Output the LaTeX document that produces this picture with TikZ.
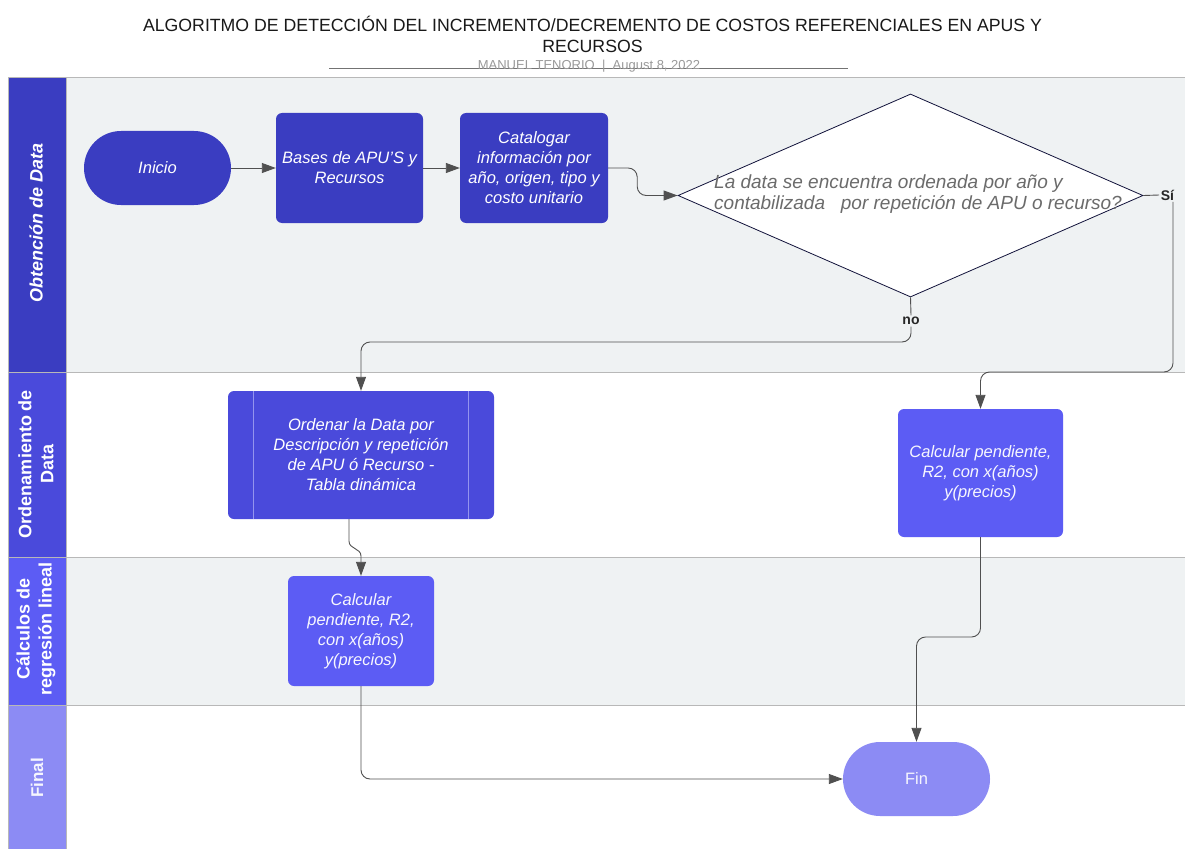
\documentclass[tikz,border=0pt]{standalone}
\usepackage{fontspec}
\setmainfont{Liberation Sans}
\usetikzlibrary{shapes.geometric,arrows.meta}
\definecolor{cA}{HTML}{3A3DC1}
\definecolor{cB}{HTML}{4A4ADB}
\definecolor{cC}{HTML}{5C5CF4}
\definecolor{cD}{HTML}{8C8BF4}
\definecolor{lanebg}{HTML}{EFF2F3}
\definecolor{laneline}{HTML}{B8B8B8}
\definecolor{wirecol}{HTML}{505050}
\definecolor{sepline}{HTML}{9494EE}
\begin{document}
\begin{tikzpicture}[x=1pt,y=-1pt,
  procbox/.style={rectangle, rounded corners=6pt, text=white, align=center, inner sep=0pt,
    font=\fontsize{16.5}{20}\selectfont\itshape},
  termbox/.style={rectangle, rounded corners=37pt, minimum width=147pt, minimum height=74pt,
    text=white, inner sep=0pt, font=\fontsize{16.5}{20}\selectfont\itshape},
  wire/.style={draw=wirecol, line width=0.9pt, rounded corners=9pt,
    -{Triangle[length=14pt,width=10pt]}},
  plainwire/.style={draw=wirecol, line width=0.9pt},
  lanehead/.style={text=white, align=center, rotate=90,
    font=\fontsize{18}{22}\selectfont\bfseries},
  lab/.style={font=\fontsize{14}{16}\selectfont\bfseries, text=black!85, inner sep=1.5pt}]
\useasboundingbox (0,0) rectangle (1185,848);
\clip (0,0) rectangle (1185,848);
\fill[white] (0,0) rectangle (1185,848);

% title
\node[align=center, text=black!90, font=\fontsize{17.7}{21}\selectfont] (title) at (592.5,34)
  {ALGORITMO DE DETECCIÓN DEL INCREMENTO/DECREMENTO DE COSTOS REFERENCIALES EN APUS Y\\RECURSOS};
\draw[black!55, line width=0.8pt] (329,68) -- (848,68);
\node[text=black!40, font=\fontsize{13}{15}\selectfont] (author) at (589,66)
  {MANUEL TENORIO \ | \ August 8, 2022};

% lanes
\fill[lanebg] (66,78) rectangle (1190,372);
\fill[white] (66,372) rectangle (1190,557);
\fill[lanebg] (66,557) rectangle (1190,705);
\fill[white] (66,705) rectangle (1190,860);
\fill[cA] (8,78) rectangle (66,372);
\fill[cB] (8,372) rectangle (66,557);
\fill[cC] (8,557) rectangle (66,705);
\fill[cD] (8,705) rectangle (66,860);
\draw[laneline, line width=1pt] (8,78) -- (1190,78)
  (8,372) -- (1190,372) (8,557) -- (1190,557) (8,705) -- (1190,705)
  (8,78) -- (8,860) (66,78) -- (66,860);

\node[lanehead, font=\fontsize{18}{22}\selectfont\bfseries\itshape] (h1) at (36,223) {Obtención de Data};
\node[lanehead] (h2) at (36,464) {Ordenamiento de\\Data};
\node[lanehead] (h3) at (36,629) {Cálculos de\\regresión lineal};
\node[lanehead, text=white!92!cD, font=\fontsize{17}{21}\selectfont\bfseries] (h4) at (37,778) {Final};

% nodes
\node[termbox, fill=cA] (ini) at (157.5,168) {Inicio};
\node[procbox, fill=cA, minimum width=147pt, minimum height=110pt] (bas) at (349.5,168)
  {Bases de APU'S y\\Recursos};
\node[procbox, fill=cA, minimum width=148pt, minimum height=110pt] (cat) at (534,168)
  {Catalogar\\información por\\año, origen, tipo y\\costo unitario};
\node[diamond, draw=black!70!cA, line width=0.8pt, fill=white, inner sep=0pt,
  minimum width=465pt, minimum height=203pt] (dia) at (910.5,195.5) {};
\node[anchor=west, align=left, text=black!58, inner sep=0pt,
  font=\fontsize{19}{21.5}\selectfont\itshape] (dtext) at (714,194)
  {La data se encuentra ordenada por año y\\contabilizada \ \ por repetición de APU o recurso?};
\node[lab, fill=lanebg] (si) at (1167.5,195) {Sí};
\node[lab, fill=lanebg] (no) at (911,321) {no};

\node[procbox, fill=cB, minimum width=266pt, minimum height=128pt] (ord) at (361,455)
  {Ordenar la Data por\\Descripción y repetición\\de APU ó Recurso -\\Tabla dinámica};
\draw[sepline, line width=0.8pt] ([xshift=26pt]ord.north west) -- ([xshift=26pt]ord.south west)
  ([xshift=-26pt]ord.north east) -- ([xshift=-26pt]ord.south east);
\node[procbox, fill=cC, minimum width=165pt, minimum height=128pt, text=white!95!cC] (calcR) at (980.5,473)
  {Calcular pendiente,\\R2, con x(años)\\y(precios)};
\node[procbox, fill=cC, minimum width=146pt, minimum height=110pt, text=white!95!cC] (calcL) at (361,631)
  {Calcular\\pendiente, R2,\\con x(años)\\y(precios)};
\node[termbox, fill=cD, font=\fontsize{16.5}{20}\selectfont, text=white!92!cD] (fin) at (916.5,779) {Fin};

% connector coordinates
\coordinate (siC) at (1173,372);
\coordinate (noC) at (911,342);
\coordinate (jog) at (361,556);
\coordinate (rbend) at (980.5,637);

% connectors
\draw[wire] (ini) -- (bas);
\draw[wire] (bas) -- (cat);
\draw[wire] (cat.east) -- ++(29,0) |- (dia.west);
\draw[plainwire] (dia.east) -- (si.west);
\draw[wire] ([xshift=5.5pt]si.south) -- (siC) -| (calcR.north);
\draw[plainwire] (dia.south) -- (no.north);
\draw[wire] (no.south) -- (noC) -| (ord.north);
\draw[wire, sharp corners] ([xshift=-12pt]ord.south) -- ++(0,22) .. controls +(0,8) and +(0,-8) .. (jog) -- (calcL.north);
\draw[wire] (calcL.south) |- (fin.west);
\draw[wire] (calcR.south) -- (rbend) -| (fin.north);
\end{tikzpicture}
\end{document}
